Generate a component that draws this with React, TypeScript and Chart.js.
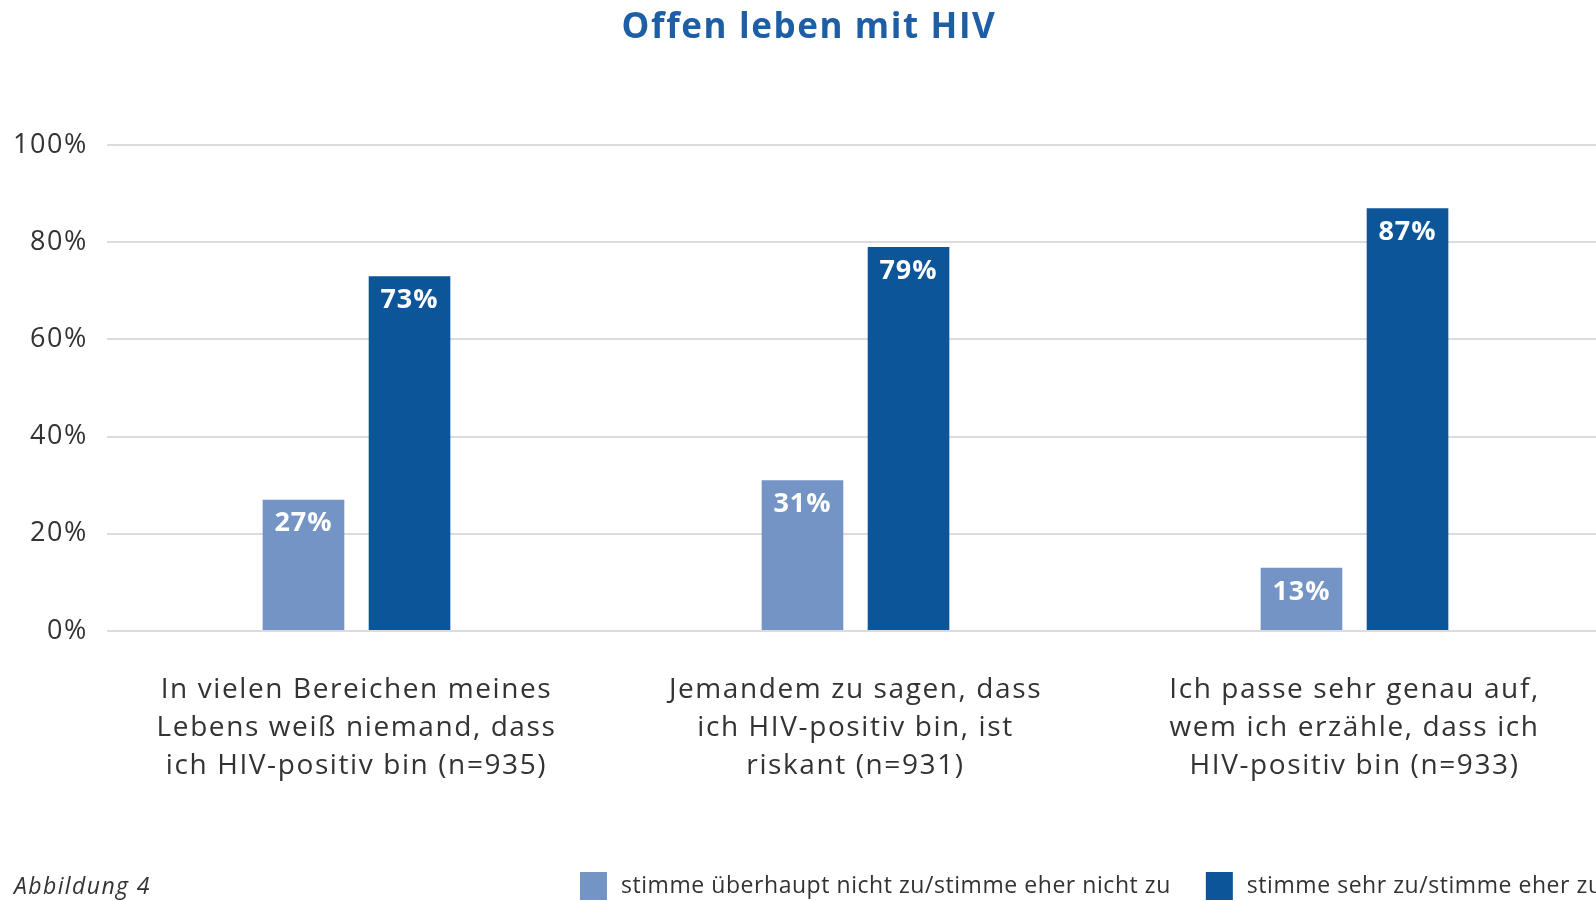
import React, { useEffect, useRef } from "react";
import { Chart, registerables } from "chart.js";

Chart.register(...registerables);

const categories: string[][] = [
  ["In vielen Bereichen meines", "Lebens weiß niemand, dass", "ich HIV-positiv bin (n=935)"],
  ["Jemandem zu sagen, dass", "ich HIV-positiv bin, ist", "riskant (n=931)"],
  ["Ich passe sehr genau auf,", "wem ich erzähle, dass ich", "HIV-positiv bin (n=933)"],
];
const disagree: number[] = [27, 31, 13];
const agree: number[] = [73, 79, 87];
const seriesNames: string[] = [
  "stimme überhaupt nicht zu/stimme eher nicht zu",
  "stimme sehr zu/stimme eher zu",
];
const titleText = "Offen leben mit HIV";
const figureLabel = "Abbildung 4";

const LIGHT = "#7394c5";
const DARK = "#0c5599";
const TEXT = "#333333";
const FONT = "'Open Sans', 'Noto Sans', sans-serif";

const W = 1604;
const H = 901;

const spacingPlugin = {
  id: "spacing",
  beforeLayout(chart: any) {
    chart.ctx.letterSpacing = "1.6px";
  },
  beforeDraw(chart: any) {
    chart.ctx.letterSpacing = "1.6px";
  },
};

const decorPlugin = {
  id: "decor",
  afterDatasetsDraw(chart: any) {
    const ctx = chart.ctx;
    ctx.save();
    ctx.letterSpacing = "1px";
    ctx.fillStyle = "#ffffff";
    ctx.font = `bold 27px ${FONT}`;
    ctx.textAlign = "center";
    ctx.textBaseline = "middle";
    chart.data.datasets.forEach((ds: any, di: number) => {
      const meta = chart.getDatasetMeta(di);
      meta.data.forEach((bar: any, i: number) => {
        ctx.fillText(`${ds.data[i]}%`, bar.x, bar.y + 24);
      });
    });
    ctx.restore();
  },
  afterDraw(chart: any) {
    const ctx = chart.ctx;
    ctx.save();
    // title
    ctx.letterSpacing = "1.6px";
    ctx.fillStyle = "#1d5ea5";
    ctx.font = `bold 35px ${FONT}`;
    ctx.textAlign = "center";
    ctx.textBaseline = "middle";
    ctx.fillText(titleText, 809, 28);
    // figure label
    ctx.letterSpacing = "1.4px";
    ctx.fillStyle = TEXT;
    ctx.font = `italic 23px ${FONT}`;
    ctx.textAlign = "left";
    ctx.fillText(figureLabel, 14, 887);
    // legend
    ctx.letterSpacing = "0.55px";
    ctx.font = `23px ${FONT}`;
    let x = 580;
    const cy = 886;
    chart.data.datasets.forEach((ds: any) => {
      ctx.fillStyle = ds.backgroundColor;
      ctx.fillRect(x, cy - 14, 27, 28);
      x += 27 + 14;
      ctx.fillStyle = TEXT;
      ctx.fillText(ds.label, x, cy);
      x += ctx.measureText(ds.label).width + 35;
    });
    ctx.restore();
  },
};

export default function App() {
  const ref = useRef<HTMLCanvasElement | null>(null);
  useEffect(() => {
    if (!ref.current) return;
    const chart = new Chart(ref.current, {
      type: "bar",
      data: {
        labels: categories,
        datasets: [
          { label: seriesNames[0], data: disagree, backgroundColor: LIGHT },
          { label: seriesNames[1], data: agree, backgroundColor: DARK },
        ],
      },
      options: {
        responsive: false,
        animation: false,
        layout: { padding: { top: 145, bottom: 0, left: 0, right: 0 } },
        plugins: {
          legend: { display: false },
          title: { display: false },
          tooltip: { enabled: false },
        },
        datasets: {
          bar: { categoryPercentage: 0.425, barPercentage: 0.77 },
        },
        scales: {
          x: {
            grid: { display: false, drawTicks: false },
            border: { display: false },
            ticks: {
              color: TEXT,
              font: { family: FONT, size: 28, lineHeight: 1.36 },
              padding: 40,
              maxRotation: 0,
              autoSkip: false,
            },
            afterFit: (s: any) => {
              s.height = 270;
            },
          },
          y: {
            min: 0,
            max: 100,
            grid: { color: "#dcdcdc", lineWidth: 2, drawTicks: false },
            border: { display: false },
            ticks: {
              stepSize: 20,
              color: TEXT,
              padding: 19,
              font: { family: FONT, size: 27 },
              callback: (v: any) => `${v}%`,
            },
            afterFit: (s: any) => {
              s.width = 107;
            },
          },
        },
      },
      plugins: [spacingPlugin, decorPlugin],
    });
    return () => chart.destroy();
  }, []);
  return (
    <div
      style={{
        position: "fixed",
        left: 0,
        top: 0,
        width: W,
        height: H,
        overflow: "hidden",
        background: "#ffffff",
      }}
    >
      <canvas ref={ref} width={W} height={H} style={{ width: W, height: H, display: "block" }} />
    </div>
  );
}
